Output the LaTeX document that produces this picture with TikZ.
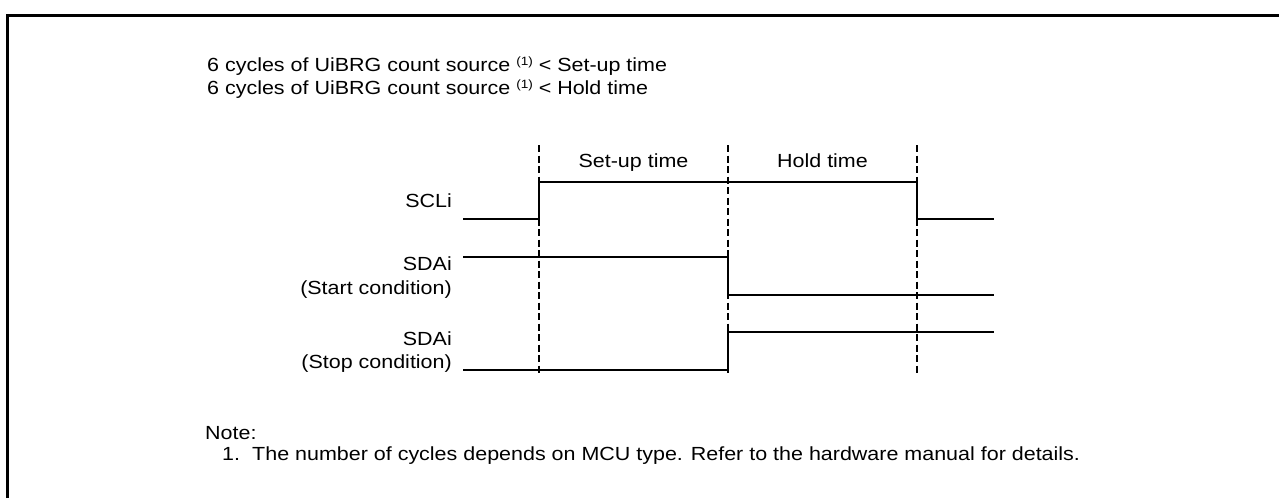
\documentclass[tikz,border=0pt]{standalone}
\usepackage{fontspec}
\setmainfont{Liberation Sans}[FakeStretch=1.13]
\usetikzlibrary{positioning}

\begin{document}
\begin{tikzpicture}[x=1pt, y=-1pt,
    sig/.style={line width=2pt},
    guide/.style={line width=2.6pt, dash pattern=on 7pt off 3.5pt},
    lbl/.style={font=\fontsize{19}{23}\selectfont, inner sep=0pt},
    signame/.style={lbl, anchor=base east}]
  \useasboundingbox (0,0) rectangle (1279,498);

  % frame
  \draw[line width=3pt] (7,498) -- (7,15) -- (1279,15);

  % conditions
  \node[lbl, anchor=base west] (cond1) at (207,71)
    {6 cycles of UiBRG count source {\fontsize{12}{12}\selectfont\raisebox{6pt}{(1)}} < Set-up time};
  \node[lbl, anchor=base west] (cond2) at (207,94)
    {6 cycles of UiBRG count source {\fontsize{12}{12}\selectfont\raisebox{6pt}{(1)}} < Hold time};

  % edges
  \coordinate (e1) at (539,145);
  \coordinate (e2) at (728,145);
  \coordinate (e3) at (917,145);
  \foreach \e in {e1,e2,e3} \draw[guide] (\e) -- ++(0,229);

  \node[lbl, anchor=base] (setup) at (633.5,167) {Set-up time};
  \node[lbl, anchor=base] (hold) at (822.5,167) {Hold time};

  % signals
  \node[signame] (scl) at (452,207) {SCLi};
  \node[signame] (sdaA) at (452,270) {SDAi};
  \node[signame] (sdaAc) at (452,294) {(Start condition)};
  \node[signame] (sdaB) at (452,345) {SDAi};
  \node[signame] (sdaBc) at (452,368) {(Stop condition)};

  \draw[sig] (463,219) -| (539,182) -| (917,219) -- (994,219);
  \draw[sig] (463,257) -| (728,295) -- (994,295);
  \draw[sig] (463,370) -| (728,332) -- (994,332);

  % note
  \node[lbl, anchor=base west] (note) at (205,439) {Note:};
  \node[lbl, anchor=base west] (note1) at (222,460) {1.};
  \node[lbl, anchor=base west] (note1t) at (252,460)
    {The number of cycles depends on MCU type. Refer to the hardware manual for details.};
\end{tikzpicture}
\end{document}
